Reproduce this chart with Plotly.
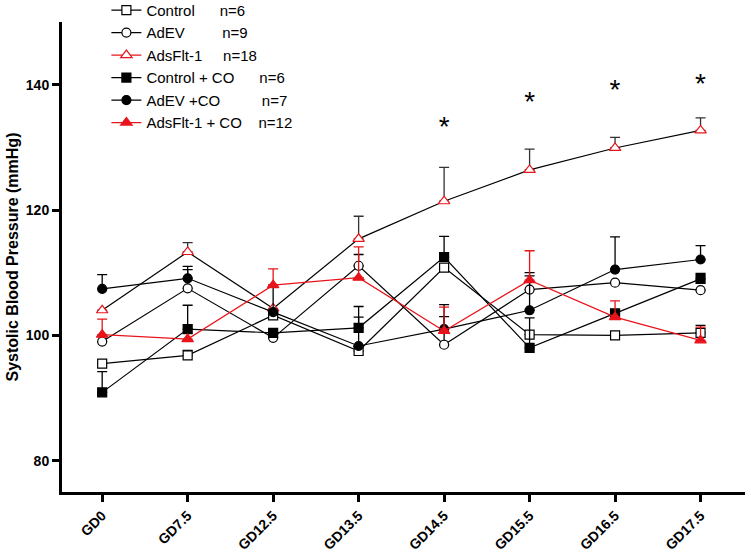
import plotly.graph_objects as go

# ---------------- data ----------------
days = ["GD0", "GD7.5", "GD12.5", "GD13.5", "GD14.5", "GD15.5", "GD16.5", "GD17.5"]

control      = [95.5, 96.8, 103.2, 97.5, 110.8, 100.1, 100.0, 100.4]
control_up   = [0.0, 0.8, 0.9, 0.8, 0.0, 0.0, 0.0, 1.2]

adev         = [99.0, 107.5, 99.6, 111.1, 98.5, 107.3, 108.4, 107.2]
adev_up      = [0.0, 3.0, 0.0, 1.8, 4.5, 2.2, 0.0, 0.0]

adsflt       = [104.0, 113.3, 104.3, 115.4, 121.4, 126.4, 129.9, 132.7]
adsflt_up    = [0.0, 1.5, 0.0, 3.6, 5.4, 3.3, 1.7, 2.0]

control_co   = [90.9, 101.0, 100.4, 101.2, 112.5, 98.0, 103.5, 109.0]
control_co_up = [3.3, 3.8, 0.0, 3.4, 3.3, 4.8, 0.0, 0.9]

adev_co      = [107.4, 109.1, 103.7, 98.3, 101.0, 104.0, 110.5, 112.1]
adev_co_up   = [2.3, 1.9, 4.3, 4.6, 3.9, 6.0, 5.2, 2.2]

adsflt_co    = [100.1, 99.4, 108.0, 109.2, 100.7, 108.8, 102.9, 99.2]
adsflt_co_up = [2.5, 0.0, 2.6, 4.9, 3.8, 4.7, 2.6, 2.1]

# significance marks (*) above the AdsFlt-1 group
star_days    = ["GD14.5", "GD15.5", "GD16.5", "GD17.5"]
star_level   = [132.9, 136.9, 138.8, 139.8]

legend_names = [
    "Control" + "\u00a0" * 6 + "n=6",
    "AdEV" + "\u00a0" * 9 + "n=9",
    "AdsFlt-1" + "\u00a0" * 5 + "n=18",
    "Control + CO" + "\u00a0" * 6 + "n=6",
    "AdEV +CO" + "\u00a0" * 10 + "n=7",
    "AdsFlt-1 + CO" + "\u00a0" * 4 + "n=12",
]

RED = "#e8141b"
BLACK = "#000000"
FONT = "Liberation Sans, Arial, sans-serif"

fig = go.Figure()


def add_series(y, up, name, symbol, mcolor, lcolor, ecolor, fill, rank, showlegend=True, size=9):
    fig.add_trace(go.Scatter(
        x=days, y=y, name=name, mode="lines+markers",
        line=dict(color=lcolor, width=1.2),
        marker=dict(symbol=symbol, size=size,
                    color=(mcolor if fill else "white"),
                    line=dict(color=mcolor, width=1.2)),
        error_y=dict(type="data", symmetric=False, array=up,
                     arrayminus=[0] * len(up), color=ecolor,
                     thickness=1.3, width=5),
        showlegend=showlegend, legendrank=rank,
    ))


add_series(control, control_up, legend_names[0], "square", BLACK, BLACK, BLACK, False, 1)
add_series(adev, adev_up, legend_names[1], "circle", BLACK, BLACK, BLACK, False, 2)
add_series(adsflt, adsflt_up, legend_names[2], "triangle-up", RED, BLACK, "#333333", False, 3,
           showlegend=False, size=10)
# legend entry for AdsFlt-1 (red line in the key)
fig.add_trace(go.Scatter(
    x=[None], y=[None], name=legend_names[2], mode="lines+markers",
    line=dict(color=RED, width=1.2),
    marker=dict(symbol="triangle-up", size=10, color="white", line=dict(color=RED, width=1.2)),
    legendrank=3,
))
add_series(control_co, control_co_up, legend_names[3], "square", BLACK, BLACK, BLACK, True, 4)
add_series(adev_co, adev_co_up, legend_names[4], "circle", BLACK, BLACK, BLACK, True, 5)
add_series(adsflt_co, adsflt_co_up, legend_names[5], "triangle-up", RED, RED, RED, True, 6, size=10)

fig.add_trace(go.Scatter(
    x=star_days, y=star_level, mode="text", text=["*"] * len(star_days),
    textposition="middle center",
    textfont=dict(family=FONT, size=28, color=BLACK),
    showlegend=False, hoverinfo="skip",
))

fig.update_layout(
    width=751, height=552,
    margin=dict(l=62, r=6, t=22, b=60, autoexpand=False),
    paper_bgcolor="white", plot_bgcolor="white",
    font=dict(family=FONT, color=BLACK),
    legend=dict(
        x=0.065, y=1.06, xanchor="left", yanchor="top",
        bgcolor="rgba(0,0,0,0)", font=dict(family=FONT, size=15, color=BLACK),
        tracegroupgap=0, itemwidth=30,
    ),
)

fig.update_xaxes(
    type="category", range=[-0.47, 7.52],
    showline=True, linecolor=BLACK, linewidth=3,
    ticks="outside", ticklen=7, tickwidth=2.5, tickcolor=BLACK,
    tickangle=-45, tickfont=dict(family=FONT, size=14, color=BLACK, weight="bold"),
    ticklabelstandoff=0,
    showgrid=False, zeroline=False, automargin=False,
)
fig.update_yaxes(
    range=[75, 150], tickvals=[80, 100, 120, 140],
    showline=True, linecolor=BLACK, linewidth=3,
    ticks="outside", ticklen=7, tickwidth=2.5, tickcolor=BLACK,
    tickfont=dict(family=FONT, size=14, color=BLACK, weight="bold"),
    title=dict(text="Systolic Blood Pressure (mmHg)",
               font=dict(family=FONT, size=16, color=BLACK, weight="bold"), standoff=4),
    showgrid=False, zeroline=False, automargin=False,
)

fig.write_html("out.html", post_script="document.body.style.margin='0';",
               config={"displayModeBar": False})
